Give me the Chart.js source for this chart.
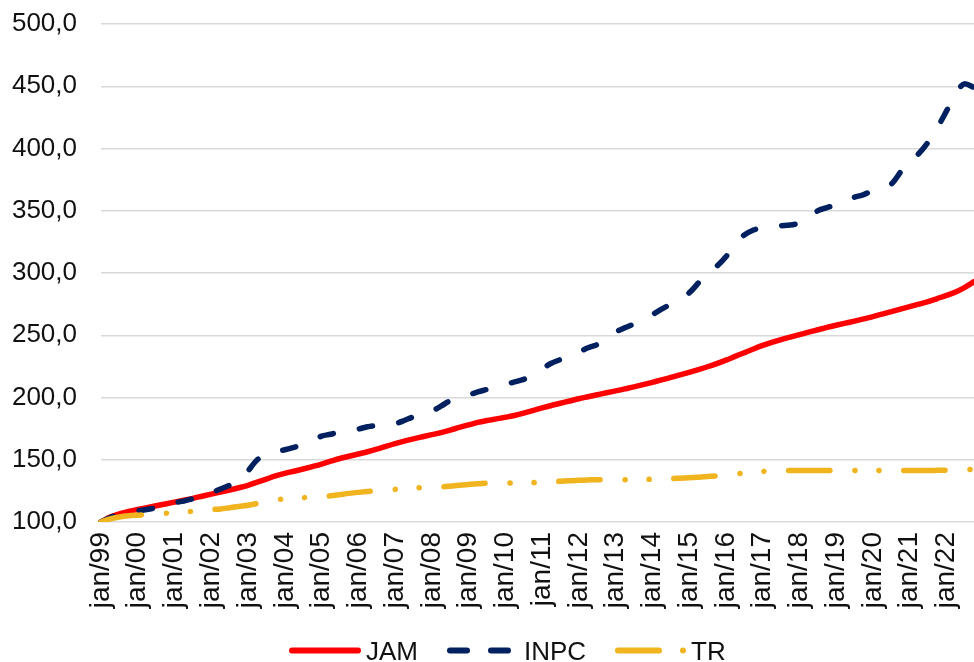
<!DOCTYPE html>
<html>
<head>
<meta charset="utf-8">
<script src="https://cdn.jsdelivr.net/npm/chart.js@4.4.1/dist/chart.umd.min.js"></script>
<style>
  html, body { margin: 0; padding: 0; background: #fff; overflow: hidden; }
  #wrap { position: relative; width: 974px; height: 662px; }
  #chart { display: block; }
  #legend { position: absolute; left: 0; top: 0; pointer-events: none; }
  #legend text { font-family: "Liberation Sans", Arial, sans-serif; font-size: 26px; fill: #111; }
</style>
</head>
<body>
<div id="wrap">
  <canvas id="chart" width="974" height="662"></canvas>
  <svg id="legend" width="974" height="662">
    <line x1="292" y1="650.5" x2="358" y2="650.5" stroke="#FF0000" stroke-width="6" stroke-linecap="round"/>
    <text x="366" y="659.5">JAM</text>
    <line x1="450" y1="650.5" x2="467" y2="650.5" stroke="#002060" stroke-width="6" stroke-linecap="round"/>
    <line x1="491" y1="650.5" x2="508" y2="650.5" stroke="#002060" stroke-width="6" stroke-linecap="round"/>
    <text x="524" y="659.5">INPC</text>
    <line x1="618" y1="650.5" x2="659" y2="650.5" stroke="#F0B41E" stroke-width="6" stroke-linecap="round"/>
    <circle cx="683" cy="650.5" r="3" fill="#F0B41E"/>
    <text x="691" y="659.5">TR</text>
  </svg>
</div>
<script>
// Quarterly index numbers, jan/1999 = 100
const years = ['99','00','01','02','03','04','05','06','07','08','09','10','11','12','13','14','15','16','17','18','19','20','21','22'];
const months = ['jan','abr','jul','out'];
const categories = [];
years.forEach(y => months.forEach(m => categories.push(m + '/' + y)));

const jam = [
  100, 104, 106.5, 108.5, 110, 111.5, 113, 114.5,
  116, 117.5, 119, 120.7, 122.4, 124, 125.7, 127.5,
  129.5, 132, 134.5, 137, 139, 140.8, 142.6, 144.5,
  146.5, 148.8, 151, 152.8, 154.6, 156.4, 158.5, 160.8,
  163, 165, 166.8, 168.5, 170.2, 171.8, 173.8, 176,
  178, 180, 181.5, 182.8, 184.1, 185.5, 187.4, 189.5,
  191.6, 193.6, 195.4, 197.2, 199, 200.6, 202.2, 203.8,
  205.3, 206.9, 208.5, 210.3, 212.2, 214.1, 216.1, 218.1,
  220.2, 222.4, 224.7, 227.2, 230, 233, 236, 239,
  241.8, 244.3, 246.5, 248.5, 250.5, 252.5, 254.4, 256.3,
  258, 259.7, 261.4, 263.2, 265, 267, 269, 271,
  273, 275, 277, 279.5, 282, 284.7, 288.5, 293
];

const inpc = [
  100, 103.5, 106, 107.5, 109, 110, 111.5, 113.5,
  115.5, 116.8, 118.7, 121, 123.5, 126.5, 129.5, 133,
  141, 150, 154, 156.5, 158, 160, 162.5, 165.5,
  169, 170.5, 172.5, 173.3, 174.6, 176.5, 177.5, 178,
  179, 181.5, 184.5, 186.5, 189, 193, 197.5, 199.8,
  202, 204.5, 206.5, 208.5, 210.5, 212.5, 214.5, 218,
  223, 227.5, 230.5, 233.5, 236.5, 240, 242.5, 247,
  252.5, 256, 259, 262, 266.5, 271, 275, 279.5,
  284, 292, 301, 305.5, 313, 324, 330.5, 334.5,
  336.5, 337.5, 338, 338.5, 340, 342.5, 350, 352.5,
  355, 358.5, 361, 363, 366.5, 369.5, 371.5, 381,
  390, 396, 405, 416.5, 430, 444, 452, 449
];

const tr = [
  100, 102.5, 104, 105, 105.5, 106, 106.5, 107,
  107.5, 108, 108.5, 109, 110, 110.5, 111.5, 112.5,
  113.5, 114.8, 116.5, 117.8, 118.5, 119, 119.5, 120,
  120.5, 121, 122, 123, 123.8, 124.5, 125.2, 125.7,
  126.2, 126.8, 127.3, 127.7, 128, 128.2, 128.8, 129.5,
  130.2, 130.8, 131.2, 131.3, 131.3, 131.4, 131.5, 131.6,
  132, 132.4, 132.8, 133.2, 133.5, 133.8, 134, 134,
  134, 134, 134.1, 134.2, 134.3, 134.5, 134.8, 135.2,
  135.6, 136, 136.5, 137, 137.8, 138.6, 139.3, 140,
  140.6, 141, 141.3, 141.4, 141.4, 141.4, 141.4, 141.4,
  141.4, 141.4, 141.4, 141.4, 141.4, 141.4, 141.4, 141.4,
  141.4, 141.4, 141.4, 141.5, 141.6, 141.6, 142, 142.4
];

const yTicks = [100, 150, 200, 250, 300, 350, 400, 450, 500];

const fontFamily = '"Liberation Sans", Arial, sans-serif';

const lineBase = {
  borderWidth: 5.5,
  pointRadius: 0,
  pointHoverRadius: 0,
  fill: false,
  cubicInterpolationMode: 'monotone',
  borderCapStyle: 'round',
  borderJoinStyle: 'round'
};

new Chart(document.getElementById('chart'), {
  type: 'line',
  data: {
    labels: categories,
    datasets: [
      Object.assign({}, lineBase, { label: 'JAM', data: jam, borderColor: '#FF0000', order: 3 }),
      Object.assign({}, lineBase, { label: 'INPC', data: inpc, borderColor: '#002060', borderDash: [13.5, 26.5], order: 2 }),
      Object.assign({}, lineBase, { label: 'TR', data: tr, borderColor: '#F0B41E', borderDash: [41.3, 25, 0.1, 23.9, 0.1, 24.7], order: 1 })
    ]
  },
  options: {
    responsive: false,
    animation: false,
    devicePixelRatio: 1,
    layout: { padding: { top: 24, right: 0, bottom: 40, left: 0 } },
    plugins: {
      legend: { display: false },
      tooltip: { enabled: false }
    },
    scales: {
      x: {
        offset: false,
        grid: { display: false, drawTicks: false },
        border: { display: false },
        ticks: {
          autoSkip: false,
          minRotation: 90,
          maxRotation: 90,
          padding: 10,
          color: '#111',
          font: { family: fontFamily, size: 28 },
          callback: function (value) {
            const lab = categories[value];
            return lab.startsWith('jan') ? lab : '';
          }
        },
        afterFit: s => { s.height = 100; s.paddingLeft = 0; s.paddingRight = 0; }
      },
      y: {
        min: 100,
        max: 500,
        afterBuildTicks: s => { s.ticks = yTicks.map(v => ({ value: v })); },
        grid: { color: '#D9D9D9', lineWidth: 1.5, drawTicks: false },
        border: { display: false },
        ticks: {
          padding: 24,
          color: '#111',
          font: { family: fontFamily, size: 26 },
          callback: v => v.toFixed(1).replace('.', ',')
        },
        afterFit: s => { s.width = 101; s.paddingTop = 0; s.paddingBottom = 0; }
      }
    }
  }
});
</script>
</body>
</html>
